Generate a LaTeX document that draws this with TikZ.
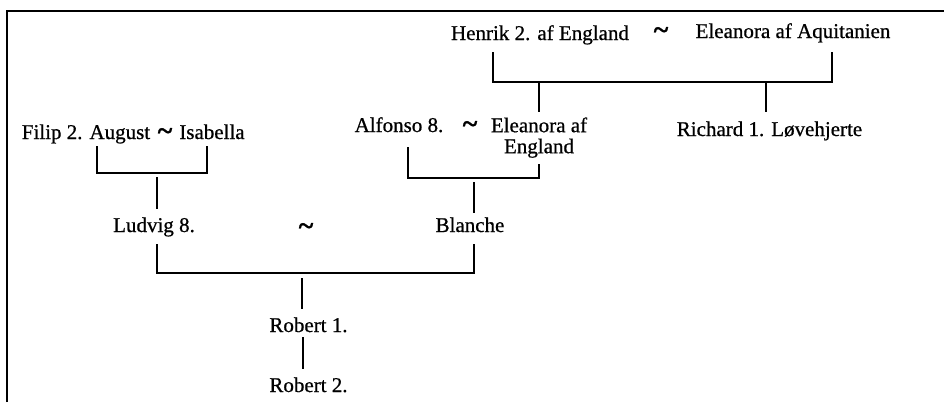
\documentclass[tikz,border=0pt]{standalone}
\usepackage{fontspec}
\setmainfont{Liberation Serif}[FakeBold=0.7]
\begin{document}
\begin{tikzpicture}[x=1pt,y=-1pt,
  person/.style={inner sep=0pt, anchor=base, font=\fontsize{21}{22}\selectfont},
  marr/.style={inner sep=0pt, anchor=center, font=\fontsize{28}{28}\selectfont\bfseries},
  link/.style={line width=1.6pt, line cap=rect},
  frame/.style={line width=2pt}]
\useasboundingbox (0,0) rectangle (944,402);
% frame
\coordinate (fTL) at (7,11);
\coordinate (fTR) at (944,11);
\coordinate (fBL) at (7,402);
\draw[frame] (fBL) -- (fTL) -- (fTR);
% people
\node[person] (henrik) at (540,40) {Henrik 2. af England};
\node[marr] (t1) at (661,33) {\textasciitilde};
\node[person] (eleaq) at (793,38) {Eleanora af Aquitanien};
\node[person] (richard) at (769.5,136) {Richard 1. Løvehjerte};
\node[person] (alfonso) at (399,132) {Alfonso 8.};
\node[marr] (t2) at (470,127) {\textasciitilde};
\node[person, anchor=center, align=center, font=\fontsize{21}{21}\selectfont] (eleng) at (539,137.6) {Eleanora af\\England};
\node[person] (filip) at (86,139) {Filip 2. August};
\node[marr] (t3) at (165,134) {\textasciitilde};
\node[person] (isabella) at (212,139) {Isabella};
\node[person] (ludvig) at (154,232) {Ludvig 8.};
\node[marr] (t4) at (306,229) {\textasciitilde};
\node[person] (blanche) at (470,232) {Blanche};
\node[person] (robert1) at (308.5,332) {Robert 1.};
\node[person] (robert2) at (308.5,392) {Robert 2.};
% Henrik ~ Eleanora
\coordinate (hA) at (493,53);
\coordinate (hB) at (832,53);
\coordinate (hJ) at (539,82);
\coordinate (hK) at (766,82);
\draw[link] (hA) |- (hK) -| (hB);
\draw[link] (hJ) -- (539,111);
\draw[link] (hK) -- (766,111);
% Filip ~ Isabella
\coordinate (fA) at (97,147);
\coordinate (fB) at (207,147);
\coordinate (fJ) at (157,178);
\draw[link] (fA) |- (207,173) -- (fB);
\draw[link] (fJ) -- (157,208);
% Alfonso ~ Eleanora
\coordinate (aA) at (408,148);
\coordinate (aB) at (539,165);
\coordinate (aJ) at (474,183);
\draw[link] (aA) |- (539,178) -- (aB);
\draw[link] (aJ) -- (474,212);
% Ludvig ~ Blanche
\coordinate (lA) at (157,245);
\coordinate (lB) at (474,245);
\coordinate (lJ) at (302,279);
\draw[link] (lA) |- (474,273) -- (lB);
\draw[link] (lJ) -- (302,308);
% Robert 1 -> Robert 2
\coordinate (rJ) at (303,338);
\draw[link] (rJ) -- (303,368);
\end{tikzpicture}
\end{document}
